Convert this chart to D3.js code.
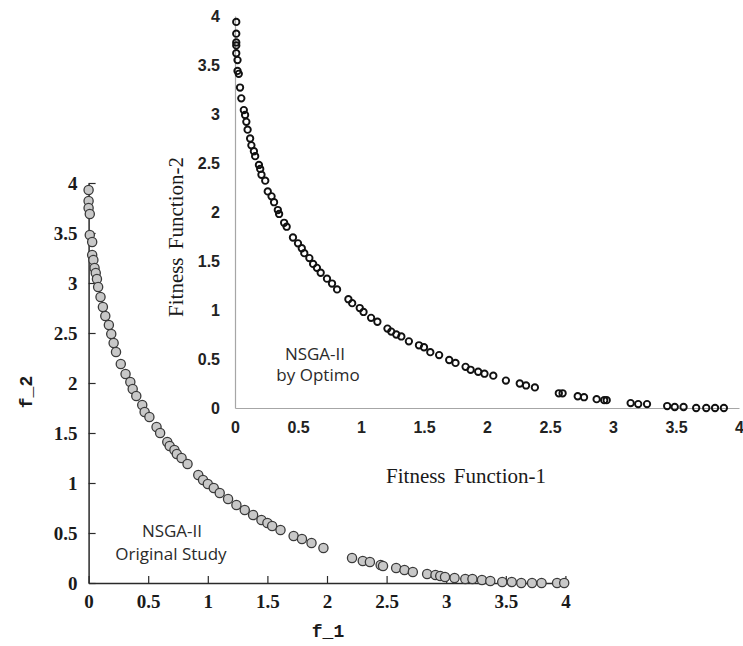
<!DOCTYPE html>
<html>
<head>
<meta charset="utf-8">
<script src="https://cdn.jsdelivr.net/npm/d3@7/dist/d3.min.js"></script>
<style>
  html, body { margin: 0; padding: 0; background: #fff; }
  svg { display: block; }
</style>
</head>
<body>
<svg id="chart" width="743" height="646"></svg>
<script>
// Pareto front of the original NSGA-II study (f_1, f_2)
const origF1 = [0.00,0.00,0.00,0.01,0.01,0.03,0.03,0.04,0.05,0.06,0.07,0.08,0.10,0.12,0.14,0.17,0.19,0.21,0.23,0.27,
  0.31,0.35,0.37,0.40,0.45,0.47,0.51,0.57,0.60,0.66,0.68,0.72,0.74,0.78,0.83,0.92,0.96,1.00,1.05,1.10,
  1.17,1.24,1.31,1.38,1.45,1.50,1.54,1.61,1.72,1.79,1.87,1.97,2.21,2.30,2.36,2.45,2.47,2.58,2.65,2.72,
  2.84,2.91,2.95,2.99,3.07,3.16,3.22,3.30,3.37,3.47,3.55,3.63,3.72,3.80,3.93,3.99];
const origF2 = [3.93,3.82,3.75,3.69,3.48,3.41,3.28,3.23,3.15,3.10,3.04,2.96,2.86,2.76,2.67,2.58,2.49,2.40,2.31,2.19,
  2.09,2.01,1.94,1.87,1.78,1.71,1.66,1.56,1.50,1.41,1.37,1.33,1.29,1.25,1.19,1.08,1.03,0.99,0.95,0.90,
  0.84,0.78,0.73,0.68,0.63,0.60,0.57,0.53,0.47,0.44,0.40,0.35,0.25,0.22,0.21,0.18,0.17,0.15,0.13,0.11,
  0.09,0.08,0.07,0.06,0.05,0.04,0.04,0.03,0.02,0.01,0.01,0.00,0.00,0.00,0.00,0.00];

// Pareto front obtained with NSGA-II in Optimo (Fitness Function-1, Fitness Function-2)
const optF1 = [0.01,0.01,0.01,0.01,0.01,0.02,0.02,0.03,0.04,0.05,0.07,0.08,0.09,0.10,0.12,0.13,0.15,0.16,0.19,0.20,
  0.21,0.24,0.26,0.29,0.31,0.34,0.35,0.39,0.41,0.46,0.50,0.53,0.55,0.59,0.62,0.65,0.68,0.73,0.77,0.81,
  0.90,0.93,0.99,1.02,1.08,1.13,1.21,1.24,1.28,1.32,1.38,1.46,1.50,1.55,1.62,1.70,1.75,1.83,1.87,1.93,
  1.98,2.05,2.15,2.26,2.31,2.38,2.57,2.60,2.72,2.77,2.87,2.93,2.95,3.14,3.20,3.27,3.43,3.49,3.56,3.66,
  3.74,3.81,3.88];
const optF2 = [3.94,3.82,3.73,3.70,3.62,3.55,3.44,3.41,3.27,3.16,3.04,2.99,2.92,2.84,2.75,2.68,2.62,2.57,2.48,2.44,
  2.38,2.32,2.21,2.16,2.10,2.02,1.98,1.89,1.85,1.74,1.68,1.63,1.58,1.53,1.47,1.43,1.38,1.32,1.27,1.21,
  1.11,1.07,1.02,0.98,0.92,0.88,0.81,0.78,0.75,0.73,0.68,0.64,0.62,0.57,0.54,0.49,0.46,0.42,0.39,0.37,
  0.35,0.33,0.28,0.25,0.23,0.21,0.15,0.15,0.12,0.11,0.09,0.08,0.08,0.05,0.04,0.04,0.02,0.01,0.01,0.00,
  0.00,0.00,0.00];

// Axis ticks shared by both panels
const tickValues = [0, 0.5, 1, 1.5, 2, 2.5, 3, 3.5, 4];
const tickLabels = ["0", "0.5", "1", "1.5", "2", "2.5", "3", "3.5", "4"];

const svg = d3.select("#chart");
svg.append("rect").attr("width", 743).attr("height", 646).attr("fill", "#fff");

const fmt = d => tickLabels[tickValues.indexOf(d)];

// ---------- Panel 1: original study ----------
const xB = d3.scaleLinear().domain([0, 4]).range([88.6, 565.4]);
const yB = d3.scaleLinear().domain([0, 4]).range([583, 183]);

const gB = svg.append("g");
const axB = gB.append("g").attr("transform", `translate(0,${yB(0)})`)
  .call(d3.axisBottom(xB).tickValues(tickValues).tickFormat(fmt)
    .tickSizeInner(-7).tickSizeOuter(0).tickPadding(12));
const ayB = gB.append("g").attr("transform", `translate(${xB(0)},0)`)
  .call(d3.axisLeft(yB).tickValues(tickValues).tickFormat(fmt)
    .tickSizeInner(-7).tickSizeOuter(0).tickPadding(11));
[axB, ayB].forEach(a => {
  a.selectAll("path.domain").attr("stroke", "#2a2a2a").attr("stroke-width", 1.5);
  a.selectAll(".tick line").attr("stroke", "#2a2a2a").attr("stroke-width", 1.2);
  a.selectAll(".tick text")
    .attr("font-family", "'Liberation Serif', 'Times New Roman', serif")
    .attr("font-weight", "bold").attr("font-size", 19).attr("fill", "#1a1a1a");
});

gB.append("text").attr("x", 328).attr("y", 637)
  .attr("text-anchor", "middle")
  .attr("font-family", "'Liberation Mono', 'DejaVu Sans Mono', monospace")
  .attr("font-weight", "bold").attr("font-size", 18).attr("fill", "#1a1a1a")
  .text("f_1");
gB.append("text").attr("transform", "translate(32,392) rotate(-90)")
  .attr("text-anchor", "middle")
  .attr("font-family", "'Liberation Mono', 'DejaVu Sans Mono', monospace")
  .attr("font-weight", "bold").attr("font-size", 18).attr("fill", "#1a1a1a")
  .text("f_2");

const noteB = gB.append("text")
  .attr("font-family", "'Open Sans', 'Noto Sans', sans-serif")
  .attr("font-size", 17).attr("fill", "#2a2a2a").attr("text-anchor", "middle");
noteB.append("tspan").attr("x", 172).attr("y", 537).text("NSGA-II");
noteB.append("tspan").attr("x", 171).attr("y", 560).text("Original Study");

gB.append("g").selectAll("circle")
  .data(origF1.map((f, i) => [f, origF2[i]]))
  .join("circle")
  .attr("cx", d => xB(d[0])).attr("cy", d => yB(d[1]))
  .attr("r", 4.6)
  .attr("fill", "#c8c8c8").attr("stroke", "#3a3a3a").attr("stroke-width", 1.3);

// ---------- Panel 2: NSGA-II by Optimo ----------
const xT = d3.scaleLinear().domain([0, 4]).range([235, 739]);
const yT = d3.scaleLinear().domain([0, 4]).range([408, 16]);

const gT = svg.append("g");
const axT = gT.append("g").attr("transform", `translate(0,${yT(0)})`)
  .call(d3.axisBottom(xT).tickValues(tickValues).tickFormat(fmt)
    .tickSize(0).tickPadding(14));
const ayT = gT.append("g").attr("transform", `translate(${xT(0)},0)`)
  .call(d3.axisLeft(yT).tickValues(tickValues).tickFormat(fmt)
    .tickSize(0).tickPadding(15));
[axT, ayT].forEach(a => {
  a.selectAll("path.domain").attr("stroke", "#a6a6a6").attr("stroke-width", 1.2);
  a.selectAll(".tick line").remove();
  a.selectAll(".tick text")
    .attr("font-family", "'Liberation Sans', Arial, sans-serif")
    .attr("font-weight", "bold").attr("font-size", 16).attr("fill", "#222");
});

gT.append("text").attr("x", 466).attr("y", 483)
  .attr("text-anchor", "middle")
  .attr("font-family", "'Liberation Serif', 'Times New Roman', serif")
  .attr("font-size", 21).attr("fill", "#1a1a1a").attr("word-spacing", 3)
  .text("Fitness Function-1");
gT.append("text").attr("transform", "translate(183,237) rotate(-90)")
  .attr("text-anchor", "middle")
  .attr("font-family", "'Liberation Serif', 'Times New Roman', serif")
  .attr("font-size", 21).attr("fill", "#1a1a1a").attr("word-spacing", 3)
  .text("Fitness Function-2");

const noteT = gT.append("text")
  .attr("font-family", "'Open Sans', 'Noto Sans', sans-serif")
  .attr("font-size", 17).attr("fill", "#2a2a2a").attr("text-anchor", "middle");
noteT.append("tspan").attr("x", 315).attr("y", 360).text("NSGA-II");
noteT.append("tspan").attr("x", 318).attr("y", 381).text("by Optimo");

gT.append("g").selectAll("circle")
  .data(optF1.map((f, i) => [f, optF2[i]]))
  .join("circle")
  .attr("cx", d => xT(d[0])).attr("cy", d => yT(d[1]))
  .attr("r", 3.2)
  .attr("fill", "none").attr("stroke", "#111").attr("stroke-width", 1.9);
</script>
</body>
</html>
